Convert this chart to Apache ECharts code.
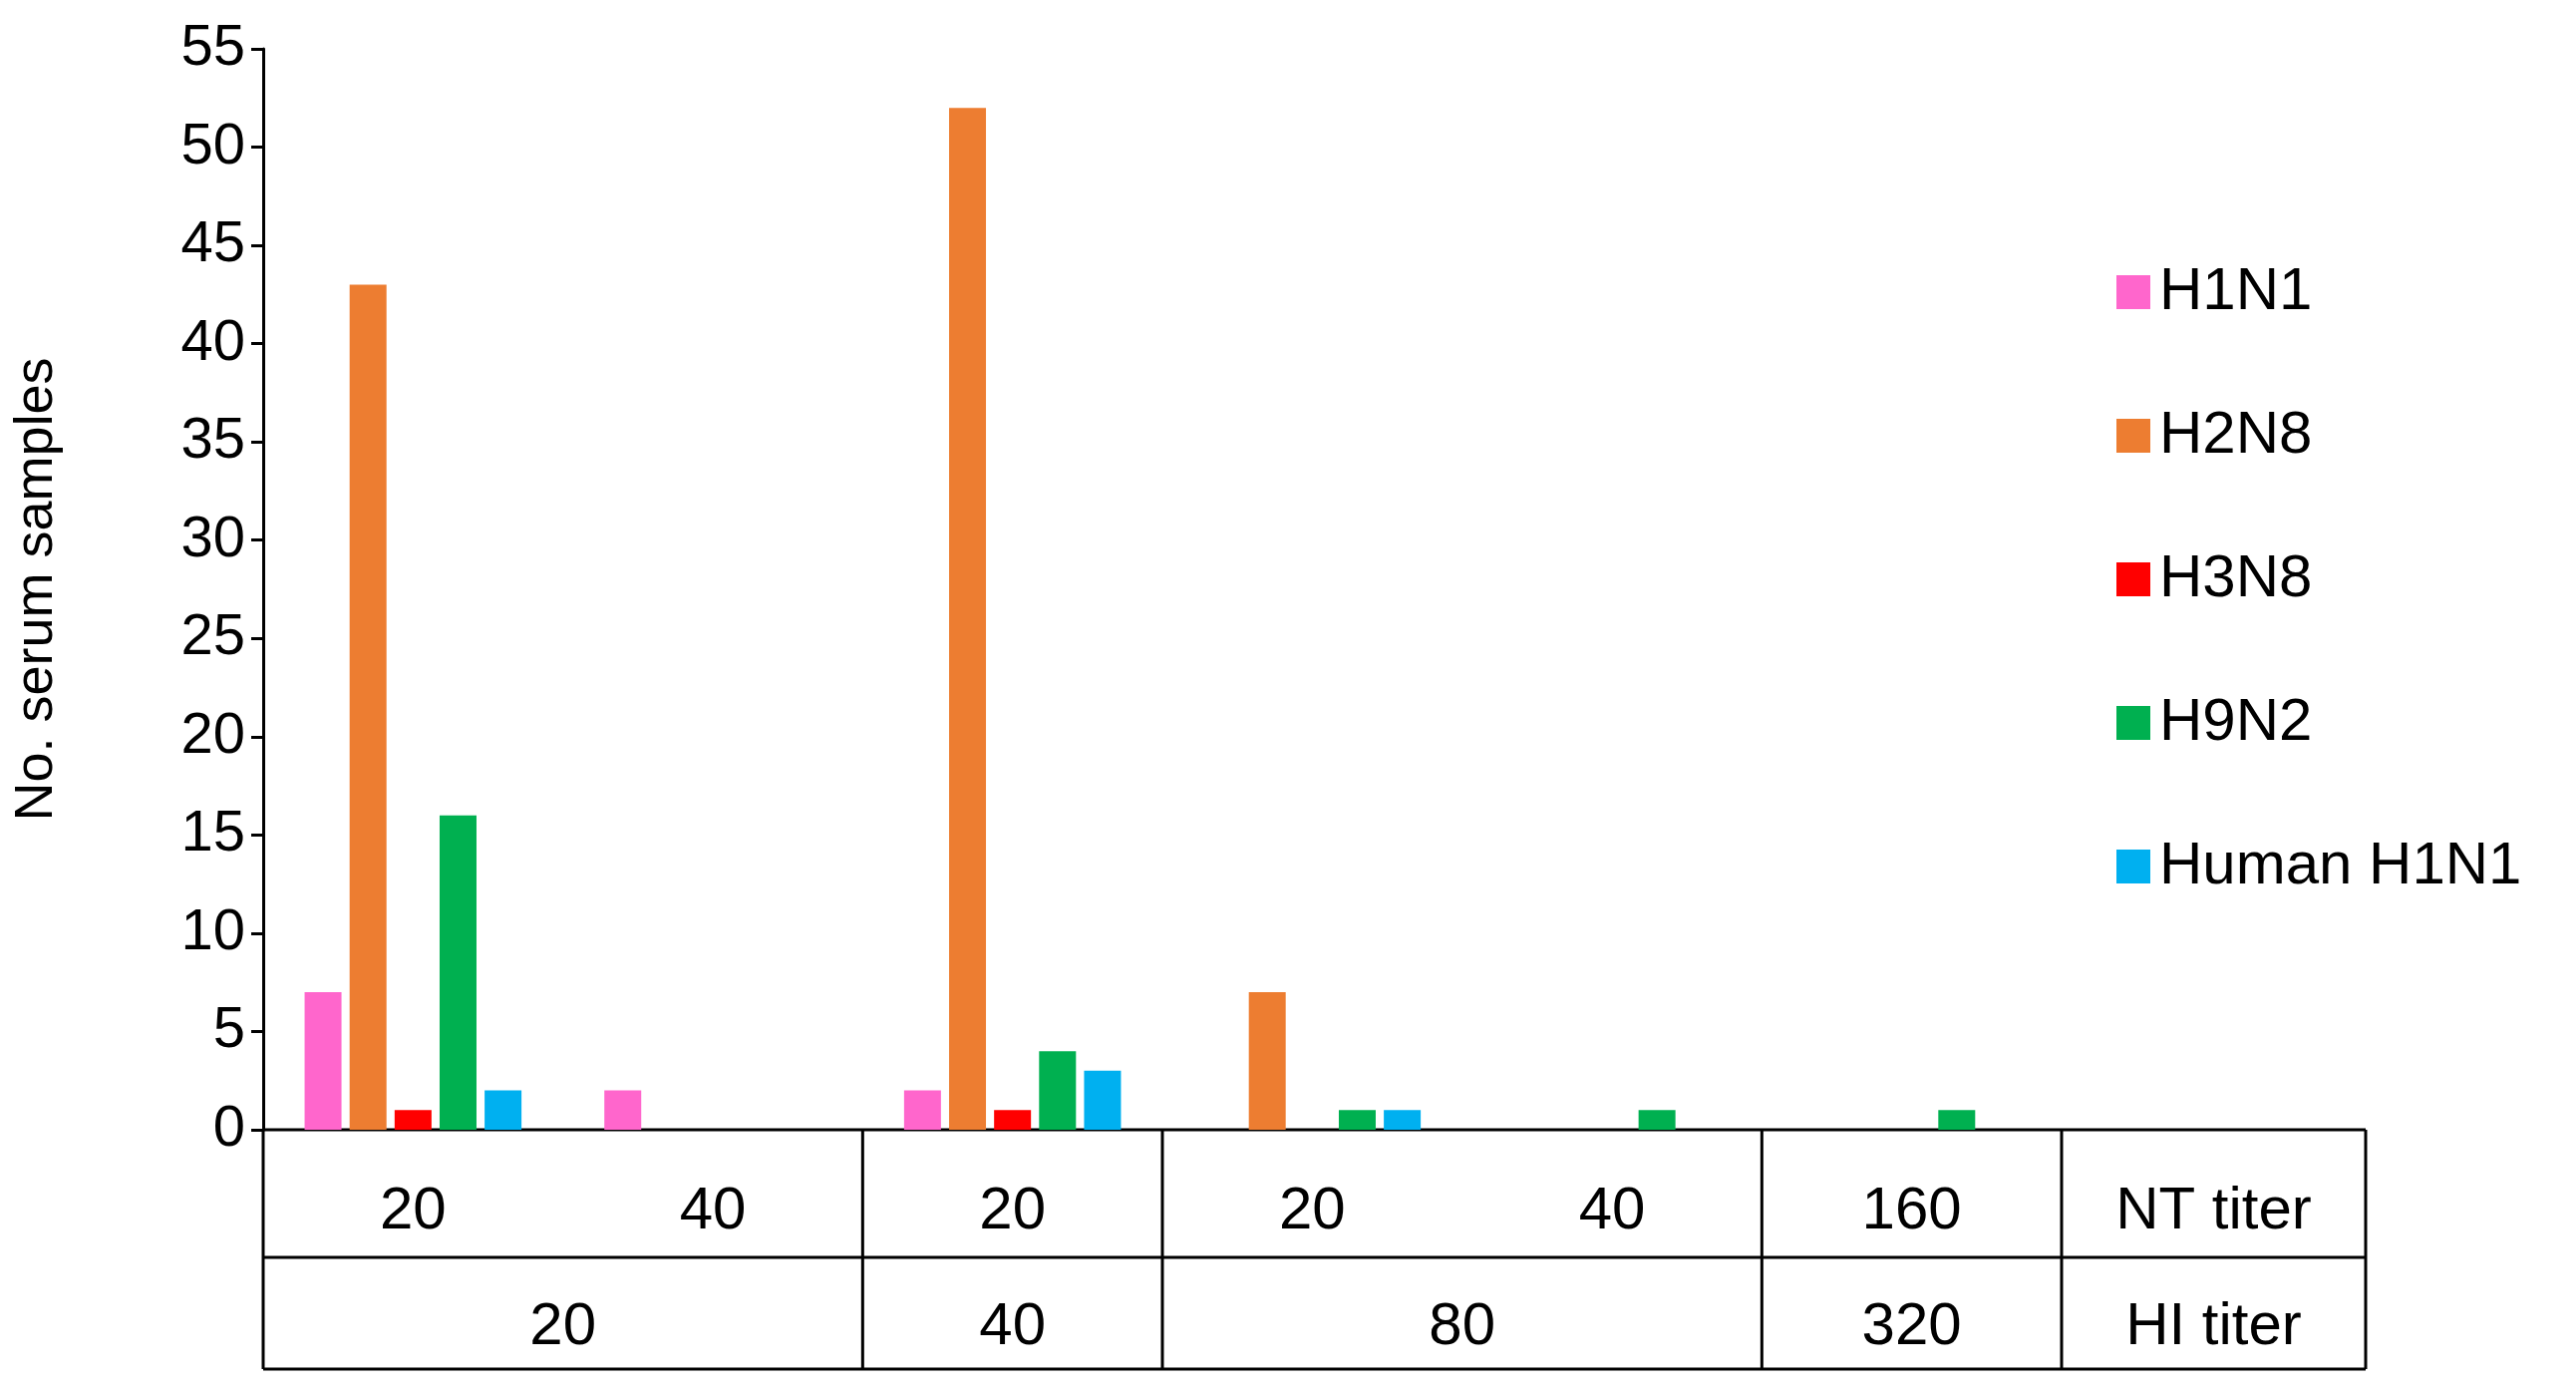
<!DOCTYPE html>
<html><head><meta charset="utf-8">
<script src="https://cdn.jsdelivr.net/npm/echarts@6/dist/echarts.min.js"></script>
<style>html,body{margin:0;background:#fff}#c{width:2584px;height:1397px}</style>
</head><body><div id="c"></div>
<script>
const FONT = 'Arial, "Liberation Sans", sans-serif';
const ntTiter = ['20', '40', '20', '20', '40', '160'];
const hiGroups = [['20', 0, 2], ['40', 2, 3], ['80', 3, 5], ['320', 5, 6]];
const seriesNames = ['H1N1', 'H2N8', 'H3N8', 'H9N2', 'Human H1N1'];
const colors = ['#ff66cc', '#ed7d31', '#ff0000', '#00b050', '#00b0f0'];
const h1n1 = [7, 2, 2, 0, 0, 0];
const h2n8 = [43, 0, 52, 7, 0, 0];
const h3n8 = [1, 0, 1, 0, 0, 0];
const h9n2 = [16, 0, 4, 1, 1, 1];
const human = [2, 0, 3, 1, 0, 0];
const values = [h1n1, h2n8, h3n8, h9n2, human];

const G = { left: 264, right: 2584 - 2068, top: 49, bottom: 1397 - 1133 };
const chart = echarts.init(document.getElementById('c'));
chart.setOption({
  backgroundColor: '#fff', animation: false,
  textStyle: { fontFamily: FONT },
  grid: G,
  legend: {
    orient: 'vertical', left: 2118, top: 258, itemGap: 84,
    itemWidth: 34, itemHeight: 34, icon: 'rect',
    textStyle: { fontSize: 60, color: '#000', fontFamily: FONT, padding: [0, 0, 0, 4] },
    data: seriesNames
  },
  xAxis: {
    type: 'category', data: ntTiter,
    axisLine: { show: false }, axisTick: { show: false }, axisLabel: { show: false }
  },
  yAxis: {
    type: 'value', min: 0, max: 55, interval: 5,
    name: 'No. serum samples', nameLocation: 'middle', nameGap: 200,
    nameTextStyle: { fontSize: 54, color: '#000', fontFamily: FONT },
    axisLine: { show: true, lineStyle: { color: '#000', width: 3 } },
    axisTick: { show: true, length: 12, lineStyle: { color: '#000', width: 3 } },
    axisLabel: { fontSize: 58, color: '#000', fontFamily: FONT, margin: 18 },
    splitLine: { show: false }
  },
  series: seriesNames.map((n, i) => ({
    name: n, type: 'bar', data: values[i], barWidth: 37, barGap: '22%',
    barCategoryGap: '20%', itemStyle: { color: colors[i] }
  }))
});

// table under the axis
const bx = k => chart.convertToPixel({ xAxisIndex: 0 }, 0) + (k - 0.5) * ((chart.convertToPixel({ xAxisIndex: 0 }, 1) - chart.convertToPixel({ xAxisIndex: 0 }, 0)));
const y0 = 1133, y1 = 1261, y2 = 1373, xEnd = 2373, xr = bx(6);
const ln = (x1, yA, x2, yB) => ({ type: 'line', shape: { x1, y1: yA, x2, y2: yB }, style: { stroke: '#000', lineWidth: 3 } });
const tx = (x, y, t) => ({ type: 'text', x, y, style: { text: t, fontSize: 60, fill: '#000', fontFamily: FONT, align: 'center', verticalAlign: 'middle' } });
const g = [ln(bx(0), y0, xEnd, y0), ln(bx(0), y1, xEnd, y1), ln(bx(0), y2, xEnd, y2),
  ln(bx(0), y0, bx(0), y2), ln(xEnd, y0, xEnd, y2), ln(xr, y0, xr, y2)];
[2, 3, 5].forEach(k => g.push(ln(bx(k), y0, bx(k), y2)));
ntTiter.forEach((t, i) => g.push(tx((bx(i) + bx(i + 1)) / 2, (y0 + y1) / 2 + 18, t)));
hiGroups.forEach(([t, a, b]) => g.push(tx((bx(a) + bx(b)) / 2, (y1 + y2) / 2 + 14, t)));
g.push(tx((xr + xEnd) / 2, (y0 + y1) / 2 + 18, 'NT titer'));
g.push(tx((xr + xEnd) / 2, (y1 + y2) / 2 + 14, 'HI titer'));
chart.setOption({ graphic: g });
</script></body></html>
